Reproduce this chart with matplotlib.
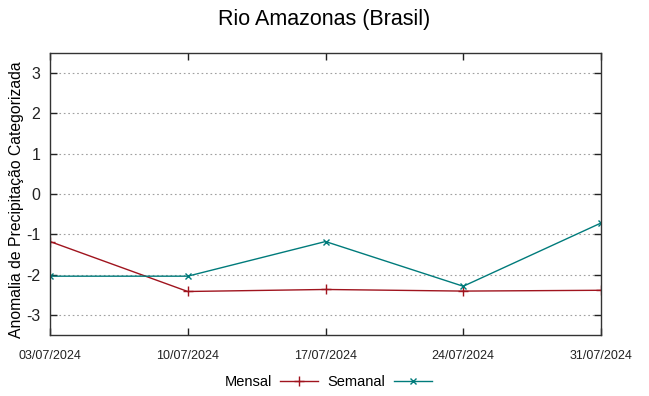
import datetime
import matplotlib
matplotlib.use("Agg")
import matplotlib.pyplot as plt
import matplotlib.dates as mdates
from matplotlib.ticker import MultipleLocator

# dados
datas = ["03/07/2024", "10/07/2024", "17/07/2024", "24/07/2024", "31/07/2024"]
mensal = [-1.18, -2.42, -2.37, -2.41, -2.39]
semanal = [-2.04, -2.04, -1.18, -2.29, -0.72]

COR_MENSAL = "#a0141e"
COR_SEMANAL = "#007b7b"

plt.rcParams["font.family"] = ["Liberation Sans", "DejaVu Sans"]
plt.rcParams["axes.unicode_minus"] = False

dias = [datetime.datetime.strptime(d, "%d/%m/%Y") for d in datas]

fig = plt.figure(figsize=(6.49, 3.96), dpi=100)
ax = fig.add_axes([50 / 649, 1 - 335 / 396, 551 / 649, 282 / 396])

ax.plot(dias, mensal, color=COR_MENSAL, linewidth=1.0, marker="+",
        markersize=7, markeredgewidth=1.0, label="Mensal")
ax.plot(dias, semanal, color=COR_SEMANAL, linewidth=1.0, marker="x",
        markersize=5, markeredgewidth=1.0, label="Semanal")

ax.set_xlim(dias[0], dias[-1])
ax.set_ylim(-3.5, 3.5)
ax.yaxis.set_major_locator(MultipleLocator(1))
ax.set_xticks(dias)
ax.set_xticklabels(datas, fontsize=9)
ax.tick_params(axis="x", direction="in", top=True, length=5, width=1, pad=11,
               colors="#222222")
ax.tick_params(axis="y", direction="in", right=True, length=5, width=1, pad=7,
               labelsize=11.5, colors="#222222")
ax.grid(axis="y", linestyle=(0, (1.5, 2.5)), color="#a0a0a0", linewidth=0.8)
for s in ax.spines.values():
    s.set_color("#333333")
    s.set_linewidth(1.0)

ax.set_ylabel("Anomalia de Precipitação Categorizada", fontsize=11.3)
ax.yaxis.set_label_coords(-26 / 551, 0.48)
fig.text(0.5, 1 - 20 / 396, "Rio Amazonas (Brasil)", ha="center", va="center", fontsize=15.5)

fig.legend(loc="center", bbox_to_anchor=(328 / 649, 1 - 382 / 396), ncol=2,
           frameon=False, markerfirst=False, fontsize=10.5, handlelength=2.6,
           columnspacing=0.6, handletextpad=0.6)

fig.savefig("out.png", dpi=100, facecolor="white")
